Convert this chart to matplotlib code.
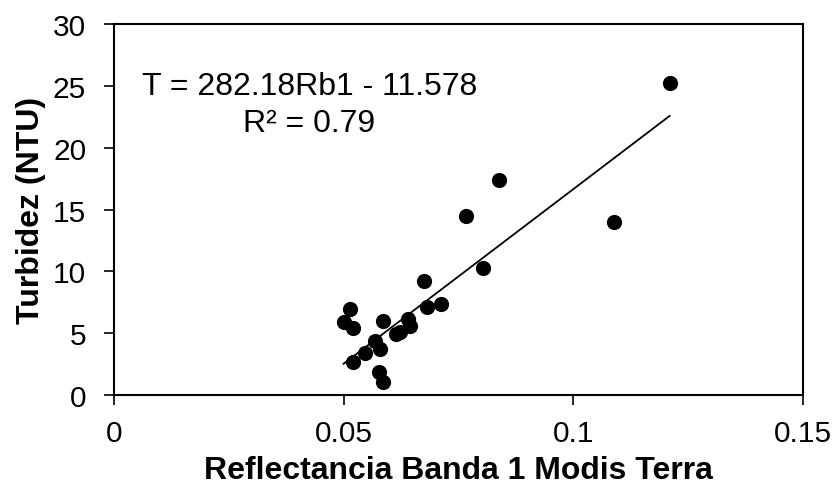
import matplotlib
matplotlib.use("Agg")
import matplotlib.pyplot as plt
import numpy as np

plt.rcParams['font.family'] = ['Liberation Sans', 'DejaVu Sans']

reflectance = [0.0514, 0.0501, 0.0521, 0.0586, 0.0568, 0.0546, 0.0579, 0.0521, 0.0578, 0.0586,
               0.0623, 0.0615, 0.0641, 0.0645, 0.0681, 0.0713, 0.0675, 0.0803, 0.0766, 0.0838,
               0.1089, 0.1211]
turbidity = [6.95, 5.88, 5.39, 6.0, 4.39, 3.37, 3.72, 2.64, 1.84, 1.03,
             5.07, 4.9, 6.14, 5.6, 7.09, 7.36, 9.2, 10.3, 14.5, 17.4,
             14.0, 25.2]
slope = 282.18
intercept = -11.578
fit_x = [0.05, 0.121]
x_ticks = [0, 0.05, 0.1, 0.15]
x_tick_labels = ['0', '0.05', '0.1', '0.15']
y_ticks = [0, 5, 10, 15, 20, 25, 30]

fig = plt.figure(figsize=(8.38, 4.89), dpi=100)
ax = fig.add_axes([0.136, 0.19, 0.822, 0.759])

ax.scatter(reflectance, turbidity, s=120, color='black', zorder=3, linewidths=0)
fx = np.array(fit_x)
ax.plot(fx, slope * fx + intercept, color='black', lw=1.3, zorder=2)

ax.set_xlim(0, 0.15)
ax.set_ylim(0, 30)
ax.set_xticks(x_ticks)
ax.set_xticklabels(x_tick_labels)
ax.set_yticks(y_ticks)
ax.tick_params(axis='both', labelsize=21.5, direction='out', length=7, width=1.2, colors='black')
ax.tick_params(axis='x', pad=10)
ax.tick_params(axis='y', pad=13)
for s in ax.spines.values():
    s.set_linewidth(1.5)
    s.set_color('black')

ax.set_xlabel('Reflectancia Banda 1 Modis Terra', fontsize=23, fontweight='bold', labelpad=6)
ax.set_ylabel('Turbidez (NTU)', fontsize=23, fontweight='bold', labelpad=5)

ax.text(0.0425, 25.0, 'T = 282.18Rb1 - 11.578', fontsize=23, ha='center', va='center')
ax.text(0.0425, 22.0, 'R² = 0.79', fontsize=23, ha='center', va='center')

fig.savefig('out.png', dpi=100)
